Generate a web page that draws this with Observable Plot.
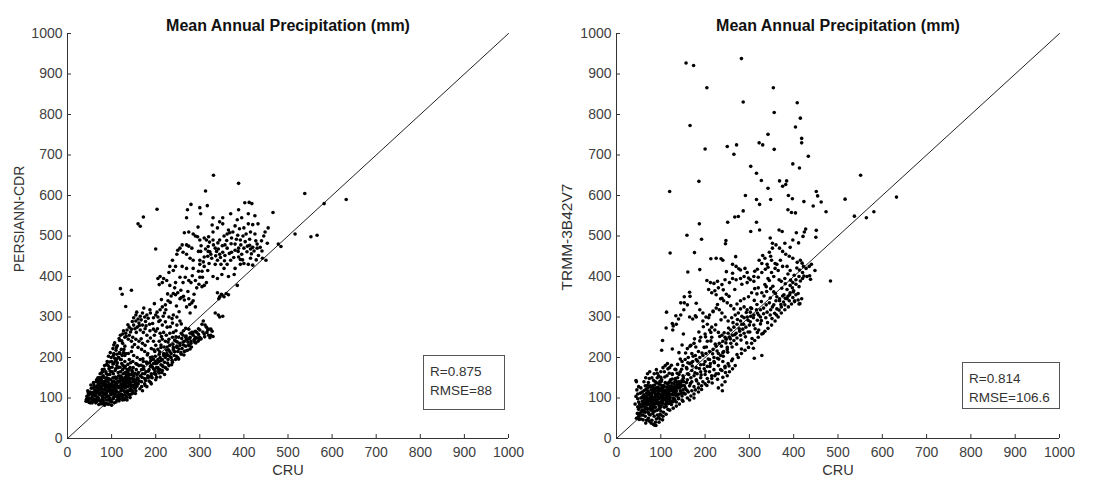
<!DOCTYPE html>
<html>
<head>
<meta charset="utf-8">
<script src="https://cdn.jsdelivr.net/npm/d3@7"></script>
<script src="https://cdn.jsdelivr.net/npm/@observablehq/plot@0.6"></script>
<style>
  html, body { margin: 0; padding: 0; background: #fff; }
  #wrap { position: relative; width: 1107px; height: 481px; overflow: hidden; font-family: "Liberation Sans", Arial, sans-serif; }
  .panel { position: absolute; top: 0; }
  .stats { position: absolute; border: 1px solid #555; background: #fff; font-size: 13.5px; color: #333; line-height: 19px; padding: 6px 0 0 6px; box-sizing: border-box; }
  .ylab { position: absolute; white-space: nowrap; color: #333; transform: translate(-50%, -50%) rotate(-90deg); }
</style>
</head>
<body>
<div id="wrap"></div>
<script>
const title = "Mean Annual Precipitation (mm)";
const xLabel = "CRU";
const yLabels = ["PERSIANN-CDR", "TRMM-3B42V7"];
const tickValues = [0, 100, 200, 300, 400, 500, 600, 700, 800, 900, 1000];
const oneToOne = [0, 1000];
const statsLeft = ["R=0.875", "RMSE=88"];
const statsRight = ["R=0.814", "RMSE=106.6"];

// [CRU, PERSIANN-CDR] pairs
const persiann = [
[538,605],[582,580],[632,590],[552,498],[566,502],[516,505],[484,474],[478,480],[466,558],[455,520],[453,482],[450,440],[442,445],[430,480],[420,428],[418,580],[412,583],[402,582],[388,630],[331,650],[313,611],[203,566],[172,547],[160,530],[165,524],[200,468],[120,370],[124,356],[145,366],[132,326],
[280,578],[300,570],[317,575],[272,565],[270,545],[302,555],[330,545],[352,545],[345,535],[370,555],[385,540],[388,565],[395,545],[410,555],[425,550],[432,530],[420,528],[410,530],[400,520],[390,518],[380,525],[375,510],[365,515],[352,530],[340,520],[330,510],[320,498],[310,495],[295,498],[285,505],[275,510],[265,508],[260,478],[270,478],[275,475],[282,470],[290,500],[300,490],[315,490],[322,485],[330,490],[335,470],[345,490],[355,500],[362,505],[372,495],[380,480],[392,490],[400,470],[408,475],[415,468],[420,472],[430,470],[440,488],[445,500],[448,510],[425,505],[415,510],[405,505],[398,500],[388,470],[380,465],[372,460],[362,470],[352,460],[345,455],[338,462],[325,455],[318,450],[310,448],[302,462],[300,440],[285,440],[278,445],[270,455],[262,460],[255,470],[250,465],[248,455],[238,440],[232,425],[230,410],[240,415],[245,425],[260,425],[270,420],[285,420],[300,430],[310,425],[318,415],[335,430],[340,440],[348,430],[355,420],[362,430],[370,440],[380,420],[392,430],[400,432],[410,430],[415,445],[395,455],[388,448],[378,405],[365,400],[350,405],[340,395],[330,400],[315,385],[305,375],[310,378],[300,398],[290,390],[280,385],[275,390],[262,385],[255,398],[245,385],[232,378],[225,390],[218,395],[210,400],[205,395],[208,380],[215,385],[250,360],[258,348],[265,342],[275,345],[285,340],[282,335],[290,325],[278,310],[270,325],[255,345],[245,355],[240,358],[235,352],[228,340],[222,330],[215,325],[210,318],[220,310],[230,300],[240,305],[248,300],[255,290],[248,280],[238,285],[226,275],[215,280],[210,292],[205,300],[200,305],[195,298],[188,310],[180,305],[175,300],[170,310],[165,302],[160,295],[155,305],[150,298],[155,290],[162,285],[170,280],[178,278],[186,282],[195,270],[200,265],[210,260],[218,262],[224,255],[232,260],[240,262],[238,250],[230,245],[222,240],[215,245],[208,240],[200,230],[195,240],[188,248],[180,255],[172,262],[165,268],[158,275],[150,280],[145,270],[140,275],[135,268],[132,260],[140,255],[148,250],[155,245],[162,240],[170,235],[176,230],[182,240],[190,222],[198,215],[205,220],[212,225],[218,210],[225,218],[232,230],[240,225],[246,240],[252,250],[258,260],[262,255],[268,250],[272,245],[278,260],[285,262],[290,250],[295,248],[300,245],[288,245],[280,240],[275,230],[265,240],[255,235],[248,228],[242,215],[235,210],[228,205],[222,200],[215,195],[208,190],[200,185],[195,195],[188,200],[182,210],[175,215],[168,220],[160,225],[152,232],[145,240],[138,245],[130,250],[125,258],[120,255],[118,242],[125,235],[130,228],[122,220],[118,212],[112,208],[110,218],[105,210],[115,200],[122,195],[130,205],[138,210],[145,215],[150,205],[158,200],[165,195],[172,190],[180,185],[188,178],[195,172],[202,175],[210,170],[215,180],[205,165],[198,160],[190,155],[182,150],[175,160],[168,170],[162,180],[155,185],[148,190],[140,195],
[150,130],[155,138],[160,148],[165,155],[170,160],[178,165],[185,170],[190,180],[195,185],[200,190],[205,195],[210,200],[218,205],[225,210],[232,215],[240,220],[248,225],[255,230],[262,238],[270,245],[278,250],[285,255],[292,248],[300,250],[310,258],[320,255],[330,252],[325,270],[315,275],[305,282],[300,268],[290,265],[282,262],[275,270],[268,228],[260,222],[250,215],[242,205],[235,200],[228,195],[220,188],[212,182],[205,175],[198,168],[190,160],[182,155],[175,148],[168,140],[160,135],[152,125],[145,120],[140,108],[148,112],[155,118],[135,95],[130,98],[125,105],[168,128],[175,135],[185,142],[192,150],[200,158],[208,162],[215,168],[222,175],[230,180],[238,188],[245,195],[250,200],[258,208],[265,215],[272,218],[280,235],[288,238],[296,240],[190,135],[200,145],[210,152],[220,158],[180,128],[170,118],[275,230],[340,360],[345,350],[350,355],[355,350],[360,358],[342,305],[345,300],[352,302],[335,310],[320,270],[325,255],[365,355],[385,378],[312,280],[318,268],[308,290],
[133,128],[137,142],[143,131],[147,157],[151,147],[157,129],[161,163],[163,142],[167,181],[169,151],[173,171],[177,143],[179,189],[183,166],[187,152],[189,193],[193,176],[197,161],[199,203],[203,186],[207,171],[209,214],[213,193],[217,177],[219,226],[223,207],[227,186],[229,219],[233,202],[237,193],[239,233],[243,214],[247,203],[249,238],[253,221],[257,212],[259,247],[263,231],[267,216],[269,253],[273,238],[277,247],[281,226],[283,259],[287,243],[291,236],[293,262],[297,257],[303,246],[307,263],[311,251],[316,262],[323,249],[328,265],[297,271],[263,266],[246,251],[228,238],[212,231],[196,219],[181,206],[171,197],[158,183],[146,168],[139,157],[131,144],[127,133],[164,123],[176,131],[188,139],[202,151],[214,163],[226,171],[236,182],[252,196],[264,206],[278,221],[142,101],[136,118],[154,111],[117,104],[158,158],[172,178],[186,187],[226,226],[243,243],[208,208],[192,201],
[103,222],[107,236],[113,229],[117,247],[123,241],[127,266],[133,252],[137,281],[143,263],[147,289],[153,271],[157,312],[163,279],[167,293],[173,322],[177,289],[183,297],[187,318],[193,284],[197,333],[203,312],[207,289],[213,343],[217,302],[223,318],[227,357],[233,336],[237,296],[243,372],[247,327],[253,313],[257,366],[263,351],[267,398],[273,363],[277,331],[283,402],[287,356],[293,372],[297,413],[213,252],[187,266],[167,246],[147,226],[127,212],[197,255],[176,271],[156,262],[233,276],[246,266],[268,272],[258,283],[222,288],[204,271],
[297,462],[303,476],[308,436],[313,468],[319,474],[323,461],[327,445],[331,478],[336,451],[341,483],[347,447],[351,476],[357,452],[361,489],[367,457],[371,481],[377,447],[383,492],[387,462],[393,478],[397,441],[403,486],[407,461],[413,477],[417,456],[423,463],[427,488],[433,452],[437,472],[413,492],[368,508],[328,527],[296,522],[386,502],[357,478],[342,468],[319,462],[305,413],[321,432],[356,439],[392,442],[428,441],[441,463],[298,381],[306,398],[349,356],[343,345],
[42,92],[44,104],[46,118],[48,96],[50,110],[52,88],[54,124],[56,102],[58,114],[60,92],[60,132],[62,120],[63,105],[64,88],[65,140],[66,112],[67,128],[68,98],[69,150],[70,118],[71,84],[72,136],[73,108],[74,160],[75,125],[76,92],[77,145],[78,115],[79,170],[80,102],[80,132],[81,155],[82,88],[83,122],[84,180],[85,140],[86,110],[87,165],[88,95],[88,130],[89,150],[90,118],[90,190],[91,85],[92,140],[93,105],[94,172],[95,128],[96,158],[97,92],[98,145],[98,112],[99,200],[100,135],[100,82],[101,165],[102,120],[103,150],[104,98],[105,185],[106,140],[107,125],[108,108],[108,168],[110,148],[110,90],[111,195],[112,132],[113,115],[114,175],[115,100],[116,155],[117,140],[118,125],[119,210],[120,165],[121,108],[122,145],[123,185],[124,130],[125,95],[126,160],[127,142],[128,118],[129,175],[130,150],[131,135],[132,162],[133,105],[134,145],[135,170],[136,155],[137,128],[138,140],[139,160],[140,150],[141,118],[142,175],[143,138],[144,158],[145,110],[146,148],[147,165],[148,132],[150,155],[152,142],[154,125],[156,170],[158,150],[160,135],
[70,100],[72,95],[74,130],[76,150],[78,105],[80,120],[82,140],[84,100],[86,125],[88,160],[90,105],[92,125],[94,135],[96,100],[98,128],[100,115],[102,140],[104,160],[106,110],[108,135],[110,120],[112,150],[114,128],[116,108],[118,140],[120,128],[122,118],[124,150],[126,138],[128,128],[130,115],[132,140],[134,130],[136,165],[138,150],[140,135],[84,150],[86,135],[78,140],[75,112],[65,118],[62,108],[58,125],[55,95],[52,115],[48,108],[46,100],[68,125],[66,145],[72,150],[80,165],[92,180],[96,175],[100,190],[104,205],[108,190],[112,180],[116,200],[120,195],[124,205],[128,220],[132,210],[130,190],[126,180],[94,85],[100,90],[106,88],[112,95],[118,98],[124,102],[130,108],[136,112],[142,122],[148,118],[154,135],[84,82],[78,86],[64,95],[56,88],[50,100],[46,92],[88,112],[92,148],[96,122],[82,112],[76,138],[70,140],[104,130],[108,152],[114,142],[134,158],[136,148],[132,152],[130,162],[138,168],[140,172],[128,148],
[57,107],[61,97],[63,127],[67,103],[69,133],[71,112],[73,121],[77,128],[79,98],[81,138],[83,109],[85,119],[87,143],[89,104],[91,131],[93,117],[95,147],[97,119],[99,108],[101,127],[103,112],[105,142],[107,117],[109,131],[111,104],[113,138],[115,126],[117,113],[119,148],[121,133],[123,121],[125,142],[127,127],[129,136],[131,125],[133,153],[135,139],[137,147],[139,131],[141,144],[77,162],[83,171],[89,183],[95,189],[101,176],[107,198],[113,187],[119,176],[73,144],[79,152],[85,129],[91,158],[97,166],[103,184],[109,172],[115,163],[121,154],[59,138],[53,132],[47,113],[43,97],[49,89],[55,109],[61,114],[67,92],[75,86],[81,93],[87,87],[93,96],[99,94],[105,103],[111,116],[117,93],[123,109],[129,96],[135,102],[141,108],[145,127],[149,141],[153,161],[157,144],[125,170],[131,178],[137,183],[143,187],[149,175],[111,225],[105,231],[97,212],[93,203]
];

// [CRU, TRMM-3B42V7] pairs
const trmm = [
[157,927],[174,921],[282,938],[204,866],[354,866],[286,831],[408,829],[166,773],[356,805],[415,791],[404,769],[342,751],[418,741],[418,730],[250,721],[271,725],[322,730],[330,725],[356,714],[200,715],[265,702],[433,697],[303,672],[398,678],[413,668],[316,655],[327,637],[186,635],[368,636],[342,618],[384,636],[382,627],[375,623],[551,650],[120,610],[291,600],[388,600],[397,592],[348,590],[516,591],[323,578],[316,590],[423,585],[451,610],[454,599],[462,584],[444,574],[473,560],[632,596],[581,560],[564,545],[537,549],[267,547],[275,548],[286,562],[404,557],[387,565],[395,558],[316,534],[251,534],[187,530],[323,515],[303,511],[367,515],[374,511],[427,517],[424,510],[159,502],[192,492],[176,459],[121,458],[451,514],[450,497],[406,508],[421,499],[398,490],[411,483],[380,482],[392,472],[347,495],[352,482],[247,489],[246,481],[213,444],[236,444],[269,449],[280,416],[188,417],[161,411],[448,415],[438,393],[483,389],[204,390],[220,383],[165,361],[166,351],[153,350],[145,335],[153,335],[180,334],[113,312],[134,303],[178,303],[112,273],[126,284],[127,268],[151,258],[104,242],[102,218],[126,221],[44,143],[83,35],[89,32],[239,118],[328,205],[311,198],[309,223],[331,260],[321,268],
[225,445],[240,440],[262,430],[270,425],[290,420],[295,410],[288,400],[280,395],[270,392],[262,395],[255,385],[245,392],[238,380],[230,372],[222,365],[215,360],[208,368],[212,385],[225,355],[235,345],[242,340],[250,335],[258,328],[265,320],[272,332],[280,340],[288,345],[298,350],[305,360],[312,370],[320,372],[328,360],[335,380],[342,395],[350,410],[358,420],[362,430],[370,440],[375,425],[365,415],[355,400],[345,390],[338,375],[348,370],[355,362],[362,350],[368,340],[375,352],[385,345],[392,360],[400,365],[410,358],[418,345],[412,332],[402,338],[390,340],[380,330],[372,325],[362,320],[352,325],[345,335],[338,330],[332,322],[325,318],[318,310],[310,305],[302,312],[295,318],[288,325],[280,320],[275,310],[268,305],[260,298],[252,290],[245,300],[238,310],[232,318],[225,322],[218,315],[210,305],[202,300],[195,310],[188,318],[180,300],[172,295],[165,300],[160,330],[152,318],[145,305],[140,295],[135,282],[128,278],[195,290],[205,282],[215,275],[222,268],[230,262],[238,255],[245,250],[252,260],[258,268],[265,275],[272,282],[280,290],[288,298],[295,300],[302,288],[310,280],[318,292],[325,300],[332,308],[340,312],[348,318],[355,330],[360,340],[368,345],[378,355],[385,368],[392,378],[398,385],[405,392],[412,400],[420,410],[428,420],[435,425],[440,430],[430,400],[420,395],[412,375],[405,355],[398,348],[322,440],[335,445],[340,430],[350,440],[358,432],[348,450],[330,452],[318,418],[310,400],[302,392],[295,385],[310,388],[320,398],[328,410],[336,418],[345,460],[352,470],[360,478],[368,470],[375,462],[382,455],[390,450],[398,445],[408,435],[415,440],[422,425],[436,402],[410,342],[414,333],[385,425],[392,415],[380,395],[372,388],
[150,180],[158,175],[165,185],[172,190],[180,195],[188,200],[195,205],[202,210],[210,215],[218,220],[225,228],[232,235],[240,240],[248,245],[255,250],[262,255],[270,260],[278,265],[285,270],[292,275],[300,280],[250,220],[242,215],[235,205],[228,198],[220,190],[212,185],[205,178],[198,172],[190,165],[182,160],[175,155],[168,150],[160,145],[152,140],[145,135],[138,130],[130,125],[125,120],[118,115],[112,110],[105,105],[100,100],[160,160],[170,168],[180,175],[190,182],[200,190],[210,195],[220,200],[230,210],[240,212],[250,225],[258,235],[265,242],[272,248],[280,255],[288,260],[260,192],[252,185],[245,175],[238,168],[230,160],[222,155],[215,148],[208,140],[200,135],[192,130],[185,125],[178,120],[170,118],[162,115],[155,110],[148,105],[140,100],[132,95],[125,92],[118,88],[112,85],[230,125],[238,132],[245,140],[250,155],[255,165],[262,172],[268,180],[275,200],[282,210],[290,218],[298,225],[305,235],[312,242],[320,250],[328,258],[335,265],[342,272],[350,280],[358,290],[365,300],[372,310],[380,318],[388,325],[395,332],[402,340],[198,225],[205,240],[215,250],[185,215],[178,205],[170,210],[162,200],[155,195],[148,190],[175,235],[168,230],[160,222],[190,250],[200,258],[210,268],
[133,142],[137,161],[143,126],[147,171],[151,149],[157,121],[161,187],[163,158],[167,136],[171,179],[173,203],[177,162],[181,142],[183,191],[187,173],[191,157],[193,211],[197,183],[201,166],[203,226],[207,196],[211,178],[213,241],[217,209],[221,187],[223,233],[227,216],[231,196],[233,252],[237,228],[241,203],[243,261],[247,236],[251,213],[253,273],[257,246],[261,226],[263,286],[267,256],[271,233],[273,294],[277,271],[281,243],[283,302],[287,282],[291,251],[293,311],[297,292],[301,263],[305,321],[309,298],[313,271],[317,331],[321,305],[325,283],[156,211],[166,228],[176,246],[186,263],[196,276],[208,298],[218,313],[228,331],[238,346],[248,356],[144,196],[138,183],[132,171],[126,158],[148,231],[141,212],[188,241],[179,226],[169,187],[159,172],[201,251],[213,262],[224,281],[236,293],[192,121],[204,131],[216,137],[228,146],[240,151],[246,163],[254,179],[262,196],[272,207],[282,221],[294,236],[306,247],[318,262],
[283,282],[297,263],[303,323],[311,341],[317,357],[327,338],[333,352],[339,363],[347,347],[353,376],[359,358],[367,392],[373,371],[381,382],[387,406],[393,391],[401,403],[407,421],[413,416],[419,433],[327,291],[337,298],[347,305],[357,309],[367,317],[377,337],[387,351],[397,372],[405,381],[415,389],[423,401],[303,302],[316,318],[341,286],[351,296],[361,305],[371,331],[381,346],[391,355],[399,362],[342,423],[328,432],[312,413],[298,396],[283,381],[267,368],[254,351],[241,367],[228,388],[262,408],[276,419],[248,412],
[45,50],[50,55],[52,62],[55,48],[58,70],[60,58],[62,80],[65,65],[66,90],[68,75],[70,100],[72,85],[74,60],[75,110],[76,95],[78,120],[78,70],[80,105],[80,88],[82,130],[82,62],[84,115],[85,98],[86,78],[88,140],[88,108],[90,92],[90,125],[92,70],[92,150],[94,112],[95,85],[96,135],[98,100],[98,60],[100,118],[100,78],[102,145],[104,92],[105,128],[106,65],[108,108],[110,138],[110,85],[112,120],[114,155],[115,98],[116,72],[118,130],[120,110],[122,145],[122,88],[125,125],[126,160],[128,100],[130,135],[132,115],[134,170],[135,90],[138,150],[140,125],[142,110],[144,165],[146,140],[148,95],[150,155],[60,105],[62,118],[65,130],[68,112],[70,125],[72,138],[74,148],[76,130],[68,95],[64,85],[58,92],[55,100],[52,85],[50,72],[48,98],[46,120],[45,140],[48,110],[55,125],[58,115],[62,140],[66,150],[70,160],[75,165],[80,150],[85,160],[90,170],[95,155],[100,165],[105,175],[110,180],[115,185],[120,175],[85,55],[80,45],[88,40],[78,38],[90,48],[95,52],[100,58],[72,50],[68,45],[65,55],[75,75],[80,80],[85,85],[90,95],[95,102],[100,88],[105,110],[110,100],[115,112],[120,95],[125,108],[130,118],[135,128],[140,140],[145,130],[150,120],[82,100],[84,92],[86,102],[88,95],[78,92],[76,102],[74,98],[72,108],[82,118],[84,125],[86,132],[88,118],[92,105],[94,98],[96,110],[98,122],[100,132],[102,105],[104,115],[106,98],[108,128],[112,95],[114,135],[116,118],[118,105],[120,140],[124,130],[128,112],[132,140],[136,105],[140,98],[144,118],[148,130],[152,112],[155,125],[158,138],[160,118],[165,130],[170,140],[175,128],[180,145],[185,135],[190,150],[195,140],[200,158],[205,148],[210,165],[215,155],[220,170],[225,160],[230,180],[235,170],[240,190],[245,178],[185,115],[175,110],[168,105],[160,100],[150,92],[142,85],[135,80],[128,75],[120,70],[112,60],[105,55],[98,48],[165,95],[175,100],[70,90],[78,110],[86,90],[94,120],[102,125],[110,112],[118,122],[126,118],[134,112],[142,135],[90,110],[96,90],[104,100],[82,75],[76,85],[70,72],[64,100],[60,88],[56,78],[50,90],
[47,62],[51,47],[53,78],[57,58],[59,84],[61,67],[63,96],[65,76],[67,104],[69,83],[71,117],[73,92],[75,128],[77,79],[79,99],[81,112],[83,86],[85,123],[87,68],[89,104],[91,137],[93,88],[95,118],[97,74],[99,109],[101,141],[103,83],[105,121],[107,96],[109,152],[111,107],[113,91],[115,127],[117,112],[119,161],[121,101],[123,118],[125,137],[127,93],[129,127],[131,108],[133,148],[135,117],[137,139],[139,109],[141,158],[143,127],[147,112],[149,143],[153,131],[74,113],[78,127],[82,96],[86,113],[90,86],[94,127],[98,141],[102,93],[106,131],[110,118],[114,103],[118,138],[122,126],[126,147],[130,99],[134,121],[138,134],[76,58],[84,67],[92,58],[100,68],[108,77],[116,86],[124,84],[62,108],[66,121],[70,131],[58,101],[54,112],[50,128],[44,104],[42,85],[48,78],[56,66],[64,72],[72,64],[80,71],[88,77],[96,81],[104,88],[112,79],[120,87],[128,91],[84,143],[92,161],[100,151],[108,165],[116,172],[124,181],[60,46],[66,38],[74,43],[86,33],[96,40],[104,46]
];

function panel(data, marginLeft, marginRight, width) {
  return Plot.plot({
    width, height: 481,
    marginLeft, marginRight, marginTop: 33, marginBottom: 43,
    style: { fontFamily: "'Liberation Sans', Arial, sans-serif", fontSize: "14px", color: "#404040", background: "#fff" },
    x: { domain: [0, 1000] },
    y: { domain: [0, 1000] },
    marks: [
      Plot.axisX({ ticks: tickValues, tickFormat: d => String(d), tickSize: -4, tickPadding: 13, label: null, fontSize: 14, stroke: "#333" }),
      Plot.axisY({ ticks: tickValues, tickFormat: d => String(d), tickSize: -4, tickPadding: 9, label: null, fontSize: 14, stroke: "#333" }),
      Plot.ruleX([0], { stroke: "#333" }),
      Plot.ruleY([0], { stroke: "#333" }),
      Plot.line(oneToOne.map(v => [v, v]), { stroke: "#222", strokeWidth: 1 }),
      Plot.dot(data, { x: d => d[0], y: d => d[1], r: 1.8, fill: "#000", stroke: null }),
      Plot.text([title], { frameAnchor: "top", dy: -14, fontWeight: "bold", fontSize: 16, fill: "#111" }),
      Plot.text([xLabel], { frameAnchor: "bottom", dy: 36, fontSize: 14.5, fill: "#333" })
    ]
  });
}

const wrap = document.getElementById("wrap");
const left = document.createElement("div");
left.className = "panel"; left.style.left = "0px";
left.appendChild(panel(persiann, 67, 45, 553));
wrap.appendChild(left);
const right = document.createElement("div");
right.className = "panel"; right.style.left = "553px";
right.appendChild(panel(trmm, 63, 48, 554));
wrap.appendChild(right);

function yLabel(text, cx, cy, size) {
  const d = document.createElement("div");
  d.className = "ylab";
  Object.assign(d.style, { left: cx + "px", top: cy + "px", fontSize: size + "px" });
  d.textContent = text;
  wrap.appendChild(d);
}
yLabel(yLabels[0], 19, 219, 14);
yLabel(yLabels[1], 567, 237, 15.5);

function statsBox(lines, x, y, w, h) {
  const b = document.createElement("div");
  b.className = "stats";
  Object.assign(b.style, { left: x + "px", top: y + "px", width: w + "px", height: h + "px" });
  b.innerHTML = lines.map(t => `<div>${t}</div>`).join("");
  wrap.appendChild(b);
}
statsBox(statsLeft, 423, 355, 82, 55);
statsBox(statsRight, 962, 362, 98, 47);
</script>
</body>
</html>
